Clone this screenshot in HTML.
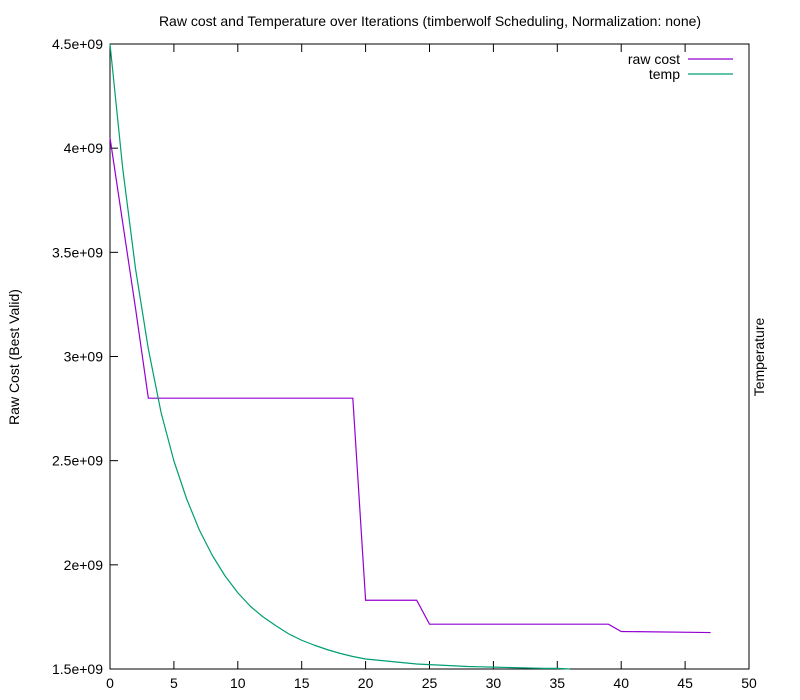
<!DOCTYPE html>
<html><head><meta charset="utf-8"><style>
body{margin:0;background:#fff}
svg{display:block;font-family:"Liberation Sans",sans-serif}
</style></head><body>
<svg id="chart" width="800" height="700" xmlns="http://www.w3.org/2000/svg">
<rect width="800" height="700" fill="#fff"/>
<text x="430" y="26" text-anchor="middle" font-size="14">Raw cost and Temperature over Iterations (timberwolf Scheduling, Normalization: none)</text>
<text transform="translate(19,357) rotate(-90)" text-anchor="middle" font-size="14">Raw Cost (Best Valid)</text>
<text transform="translate(764,357) rotate(-90)" text-anchor="middle" font-size="14">Temperature</text>
<g id="axes"></g>
<g id="series"></g>
<g>
<text x="680" y="64" text-anchor="end" font-size="14">raw cost</text>
<line x1="688" y1="59" x2="733" y2="59" stroke="#9400d3" stroke-width="1.2"/>
<text x="680" y="79" text-anchor="end" font-size="14">temp</text>
<line x1="688" y1="74" x2="733" y2="74" stroke="#009e73" stroke-width="1.2"/>
</g>
</svg>
<script>
const xTicks=[0,5,10,15,20,25,30,35,40,45,50];
const yTicks=[1.5e9,2e9,2.5e9,3e9,3.5e9,4e9,4.5e9];
const yTickLabels=["1.5e+09","2e+09","2.5e+09","3e+09","3.5e+09","4e+09","4.5e+09"];
const costX=[0,1,2,3,19,20,24,25,39,40,47];
const costY=[4.05e9,3.64e9,3.23e9,2.8e9,2.8e9,1.83e9,1.83e9,1.715e9,1.715e9,1.68e9,1.675e9];
const tempX=[0,1,2,3,4,5,6,7,8,9,10,11,12,13,14,15,16,17,18,19,20,21,22,23,24,25,26,27,28,29,30,31,32,33,34,35,36];
const tempY=[1,0.8,0.64,0.512,0.41,0.333,0.272,0.222,0.182,0.149,0.122,0.1,0.083,0.069,0.056,0.046,0.038,0.031,0.025,0.02,0.016,0.014,0.012,0.01,0.008,0.007,0.006,0.005,0.004,0.0035,0.003,0.0025,0.002,0.0015,0.001,0.001,0];
const L=110,R=749,T=44,B=669,NS="http://www.w3.org/2000/svg";
const sx=v=>L+(v-0)/50*(R-L);
const sy=v=>B-(v-1.5e9)/3e9*(B-T);
const sy2=v=>B-v*(B-T);
function mk(tag,attrs,parent){const e=document.createElementNS(NS,tag);for(const k in attrs)e.setAttribute(k,attrs[k]);parent.appendChild(e);return e;}
const ax=document.getElementById('axes');
const frame=mk('rect',{x:L,y:T,width:R-L,height:B-T,fill:'none',stroke:'#000','stroke-width':1},ax);


xTicks.forEach(v=>{
 const x=sx(v);
 mk('line',{x1:x,y1:B,x2:x,y2:B-8,stroke:'#000'},ax);
 mk('line',{x1:x,y1:T,x2:x,y2:T+8,stroke:'#000'},ax);
 const t=mk('text',{x:x,y:B+19,'text-anchor':'middle','font-size':14},ax);
 t.textContent=v;
 
 
});
yTicks.forEach((v,i)=>{
 const y=sy(v);
 mk('line',{x1:L,y1:y,x2:L+8,y2:y,stroke:'#000'},ax);
 const t=mk('text',{x:L-7,y:y+5,'text-anchor':'end','font-size':14},ax);
 t.textContent=yTickLabels[i];
 
 
});
const sg=document.getElementById('series');
const p1=mk('polyline',{points:costX.map((x,i)=>sx(x)+','+sy(costY[i])).join(' '),fill:'none',stroke:'#9400d3','stroke-width':1.2},sg);


const p2=mk('polyline',{points:tempX.map((x,i)=>sx(x)+','+sy2(tempY[i])).join(' '),fill:'none',stroke:'#009e73','stroke-width':1.2,'stroke-linejoin':'round'},sg);


</script>
</body></html>
